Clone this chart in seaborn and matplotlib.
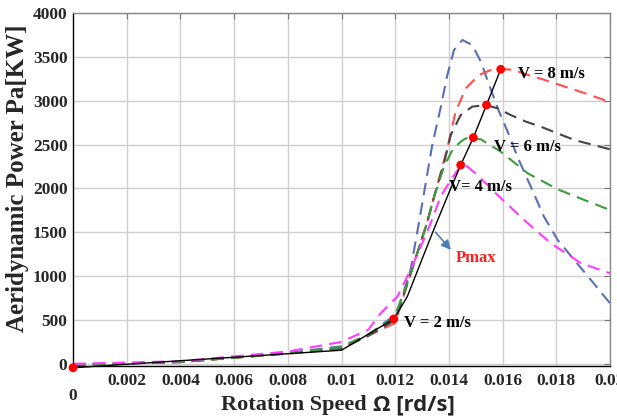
import matplotlib
matplotlib.use("Agg")
import matplotlib.pyplot as plt
import seaborn as sns
import pandas as pd

# ---- data ----
blue_x = [0, 0.004, 0.008, 0.010, 0.011, 0.012, 0.01226, 0.01257, 0.01288, 0.01338, 0.01369, 0.01394, 0.01419, 0.01450, 0.01487, 0.01519, 0.01550, 0.01587, 0.01624, 0.01655, 0.01705, 0.01754, 0.01805, 0.01867, 0.01929, 0.0200]
blue_y = [-10, 20, 125, 200, 330, 560, 766, 1070, 1602, 2495, 2917, 3293, 3578, 3692, 3635, 3445, 3179, 2875, 2609, 2362, 2020, 1678, 1412, 1184, 956, 690]

red_x = [0, 0.004, 0.008, 0.010, 0.011, 0.012, 0.01262, 0.01318, 0.01345, 0.01394, 0.01425, 0.01463, 0.01512, 0.01556, 0.01600, 0.01643, 0.01687, 0.01743, 0.01892, 0.0200]
red_y = [-10, 20, 115, 170, 320, 466, 1070, 1602, 1906, 2457, 2875, 3141, 3293, 3350, 3362, 3350, 3300, 3250, 3100, 2985]

black_x = [0, 0.004, 0.008, 0.010, 0.011, 0.012, 0.01262, 0.01318, 0.01345, 0.01382, 0.01407, 0.01444, 0.01487, 0.01537, 0.01581, 0.01630, 0.01687, 0.01742, 0.01867, 0.0200]
black_y = [-10, 20, 120, 180, 320, 500, 1070, 1602, 1906, 2290, 2609, 2837, 2932, 2951, 2913, 2837, 2761, 2704, 2552, 2446]

green_x = [0, 0.004, 0.008, 0.010, 0.011, 0.012, 0.01262, 0.01318, 0.01345, 0.01382, 0.01413, 0.01444, 0.01463, 0.01519, 0.01593, 0.01693, 0.01805, 0.01904, 0.0200]
green_y = [-10, 20, 120, 190, 335, 538, 1070, 1602, 1906, 2250, 2438, 2533, 2571, 2560, 2419, 2173, 1990, 1868, 1754]

magenta_x = [0, 0.004, 0.008, 0.010, 0.011, 0.01146, 0.01208, 0.01257, 0.01295, 0.01332, 0.01369, 0.01407, 0.01444, 0.01463, 0.01506, 0.01581, 0.0168, 0.0178, 0.01892, 0.0200]
magenta_y = [0, 30, 140, 250, 390, 577, 766, 1070, 1336, 1602, 1906, 2096, 2258, 2264, 2153, 1925, 1640, 1374, 1147, 1033]

pmax_x = [0, 0.010, 0.01195, 0.01245, 0.01288, 0.01343, 0.01400, 0.01444, 0.01491, 0.01540, 0.01593]
pmax_y = [-45, 155, 512, 766, 1100, 1526, 1950, 2267, 2579, 2951, 3358]

dot_x = [0, 0.01195, 0.01444, 0.01491, 0.01540, 0.01593]
dot_y = [-45, 512, 2267, 2579, 2951, 3358]

x_ticks = [0.002, 0.004, 0.006, 0.008, 0.01, 0.012, 0.014, 0.016, 0.018, 0.02]
x_tick_labels = ["0.002", "0.004", "0.006", "0.008", "0.01", "0.012", "0.014", "0.016", "0.018", "0.02"]
y_ticks = [0, 500, 1000, 1500, 2000, 2500, 3000, 3500, 4000]
speed_labels = ["V = 8 m/s", "V = 6 m/s", "V= 4 m/s", "V = 2 m/s"]
speed_label_pos = [(0.01657, 3305), (0.01567, 2472), (0.01399, 2016), (0.01231, 466)]

sns.set_style("white")
plt.rcParams["font.family"] = ["Liberation Serif", "DejaVu Serif"]

fig = plt.figure(figsize=(6.17, 4.2), dpi=100)
ax = fig.add_axes([73 / 617, 1 - 366 / 420, (610 - 73) / 617, (366 - 13) / 420])

curves = [
    (blue_x, blue_y, "#5b6fb6"),
    (red_x, red_y, "#ff5050"),
    (black_x, black_y, "#454545"),
    (green_x, green_y, "#3c9c3c"),
    (magenta_x, magenta_y, "#ff3cff"),
]
for cx, cy, col in curves:
    df = pd.DataFrame({"x": cx, "y": cy})
    sns.lineplot(data=df, x="x", y="y", ax=ax, color=col, linewidth=1.5,
                 estimator=None, sort=False)
    ax.lines[-1].set_dashes([6, 3.5])

dfp = pd.DataFrame({"x": pmax_x, "y": pmax_y})
sns.lineplot(data=dfp, x="x", y="y", ax=ax, color="black", linewidth=1.0,
             estimator=None, sort=False)
ax.lines[-1].set_clip_on(False)

dfd = pd.DataFrame({"x": dot_x, "y": dot_y})
sns.scatterplot(data=dfd, x="x", y="y", ax=ax, color="#ff0000", s=40,
                edgecolor="none", zorder=5, clip_on=False)

ax.set_xlim(0, 0.02)
ax.set_ylim(-25, 4000)
ax.set_xticks(x_ticks)
ax.set_xticklabels(x_tick_labels)
ax.set_yticks(y_ticks)
ax.grid(True, color="#cfcfcf", linewidth=1.0)
ax.set_xlabel("")
ax.set_ylabel("")

for lab in ax.get_xticklabels() + ax.get_yticklabels():
    lab.set_fontweight("bold")
    lab.set_fontsize(12.5)
ax.tick_params(axis="both", direction="in", length=4, pad=4, top=True, right=True,
               color="#777777")
ax.tick_params(axis="x", pad=5)

for side in ["left", "bottom"]:
    ax.spines[side].set_color("black")
    ax.spines[side].set_linewidth(1.0)
for side in ["top", "right"]:
    ax.spines[side].set_color("#888888")
    ax.spines[side].set_linewidth(1.0)

# lone "0" tick label set lower than the others
ax.annotate("0", xy=(0, 0), xycoords=("data", "axes fraction"), xytext=(0, -16),
            textcoords="offset points", ha="center", va="top",
            fontsize=12.5, fontweight="bold")

for txt, (tx, ty) in zip(speed_labels, speed_label_pos):
    ax.text(tx, ty, txt, fontsize=12, fontweight="bold", ha="left", va="center",
            color="black")

ax.text(0.01425, 1207, "Pmax", fontsize=12, fontweight="bold", color="#ff2020",
        ha="left", va="center")
ax.annotate("", xy=(0.01414, 1275), xytext=(0.01343, 1526),
            arrowprops=dict(arrowstyle="-|>", color="#4a7fb5", lw=1.2,
                            mutation_scale=14))

fig.text(18 / 617, 1 - 178 / 420, "Aeridynamic Power Pa[KW]", rotation=90,
         ha="center", va="center", fontsize=18, fontweight="bold")
fig.text(367 / 617, 1 - 405 / 420, "Rotation Speed", ha="right", va="center",
         fontsize=16, fontweight="bold")
fig.text(373 / 617, 1 - 405 / 420, "Ω [rd/s]", ha="left", va="center",
         fontsize=16, fontweight="bold", family=["Open Sans", "DejaVu Sans"])

fig.savefig("out.png", dpi=100)
